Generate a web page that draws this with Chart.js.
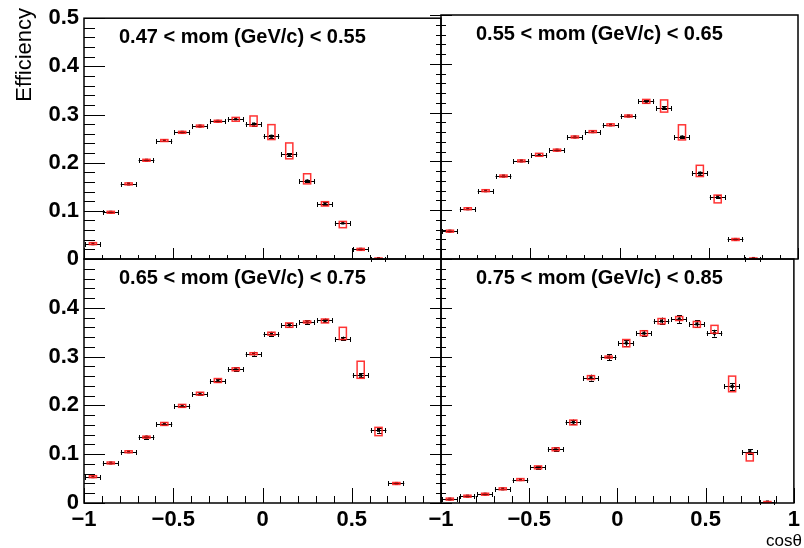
<!DOCTYPE html>
<html>
<head>
<meta charset="utf-8">
<script src="https://cdn.jsdelivr.net/npm/chart.js@4.4.1/dist/chart.umd.min.js"></script>
<style>
  html, body { margin: 0; padding: 0; background: #fff; }
  #wrap { position: relative; width: 804px; height: 548px; }
  #wrap canvas { position: absolute; left: 0; top: 0; }
</style>
</head>
<body>
<div id="wrap">
  <canvas id="c0" width="804" height="548"></canvas>
  <canvas id="c1" width="804" height="548"></canvas>
  <canvas id="c2" width="804" height="548"></canvas>
  <canvas id="c3" width="804" height="548"></canvas>
</div>
<script>
// cos(theta) bins, width 0.1
const binCenters = [-0.95, -0.85, -0.75, -0.65, -0.55, -0.45, -0.35, -0.25, -0.15, -0.05,
                    0.05, 0.15, 0.25, 0.35, 0.45, 0.55, 0.65, 0.75, 0.85, 0.95];
const binHalfWidth = 0.05;

const momRanges = ['0.47 < mom (GeV/c) < 0.55', '0.55 < mom (GeV/c) < 0.65',
                   '0.65 < mom (GeV/c) < 0.75', '0.75 < mom (GeV/c) < 0.85'];

const xTickValues = [-1, -0.5, 0, 0.5, 1];
const yTickValues = [0, 0.1, 0.2, 0.3, 0.4, 0.5];
const xMinorStep = 0.1;
const yMinorStep = 0.02;

// efficiency, stat error, systematic box centre and half height
const eff1 = [0.032, 0.097, 0.156, 0.205, 0.246, 0.263, 0.276, 0.286, 0.291, 0.280, 0.255, 0.217, 0.162, 0.115, 0.075, 0.020, 0.001, null, null, null];
const stat1 = [0.002, 0.002, 0.002, 0.002, 0.002, 0.002, 0.002, 0.002, 0.002, 0.003, 0.003, 0.003, 0.003, 0.003, 0.002, 0.001, 0.001, null, null, null];
const sysMid1 = [0.032, 0.097, 0.156, 0.205, 0.246, 0.263, 0.276, 0.286, 0.290, 0.2865, 0.2635, 0.2245, 0.1665, 0.1145, 0.0715, 0.020, 0.001, null, null, null];
const sysErr1 = [0.002, 0.002, 0.002, 0.002, 0.002, 0.002, 0.002, 0.002, 0.004, 0.0105, 0.0155, 0.0165, 0.0105, 0.0045, 0.0065, 0.002, 0.001, null, null, null];

const eff2 = [0.057, 0.103, 0.140, 0.170, 0.201, 0.2135, 0.223, 0.250, 0.261, 0.275, 0.293, 0.323, 0.310, 0.250, 0.176, 0.128, 0.040, 0.001, null, null];
const stat2 = [0.002, 0.002, 0.002, 0.002, 0.002, 0.002, 0.002, 0.002, 0.002, 0.002, 0.002, 0.003, 0.003, 0.003, 0.003, 0.003, 0.002, 0.001, null, null];
const sysMid2 = [0.057, 0.103, 0.140, 0.170, 0.201, 0.2135, 0.223, 0.250, 0.261, 0.275, 0.293, 0.323, 0.3135, 0.2595, 0.1805, 0.123, 0.040, 0.001, null, null];
const sysErr2 = [0.002, 0.002, 0.002, 0.002, 0.002, 0.003, 0.002, 0.002, 0.002, 0.002, 0.002, 0.004, 0.0125, 0.0155, 0.0115, 0.008, 0.002, 0.001, null, null];

const eff3 = [0.054, 0.082, 0.105, 0.135, 0.162, 0.199, 0.224, 0.251, 0.274, 0.306, 0.347, 0.365, 0.371, 0.374, 0.337, 0.262, 0.149, 0.040, null, null];
const stat3 = [0.002, 0.002, 0.002, 0.003, 0.003, 0.003, 0.003, 0.004, 0.004, 0.004, 0.004, 0.004, 0.004, 0.004, 0.004, 0.004, 0.005, 0.002, null, null];
const sysMid3 = [0.054, 0.082, 0.105, 0.135, 0.162, 0.199, 0.224, 0.251, 0.274, 0.306, 0.347, 0.3645, 0.371, 0.373, 0.3475, 0.273, 0.1465, 0.040, null, null];
const sysErr3 = [0.002, 0.002, 0.002, 0.002, 0.003, 0.003, 0.003, 0.004, 0.003, 0.002, 0.003, 0.0045, 0.002, 0.004, 0.0125, 0.0175, 0.0085, 0.002, null, null];

const eff4 = [0.008, 0.014, 0.018, 0.029, 0.048, 0.073, 0.110, 0.166, 0.257, 0.299, 0.328, 0.348, 0.373, 0.377, 0.367, 0.348, 0.239, 0.105, 0.002, null];
const stat4 = [0.001, 0.001, 0.001, 0.002, 0.002, 0.003, 0.004, 0.005, 0.006, 0.006, 0.006, 0.006, 0.007, 0.008, 0.007, 0.007, 0.007, 0.005, 0.001, null];
const sysMid4 = [0.008, 0.014, 0.018, 0.029, 0.048, 0.073, 0.110, 0.165, 0.257, 0.299, 0.3275, 0.348, 0.3725, 0.378, 0.366, 0.356, 0.244, 0.094, 0.002, null];
const sysErr4 = [0.002, 0.002, 0.002, 0.002, 0.002, 0.003, 0.003, 0.005, 0.004, 0.002, 0.0075, 0.005, 0.0055, 0.004, 0.006, 0.008, 0.016, 0.0078, 0.001, null];

const FONT = '"Liberation Sans", Arial, sans-serif';
const SYS_HALF_WIDTH = 0.02;
const W = 804, H = 548;
const crisp = v => Math.round(v) + 0.5;

function fmt(v) {
  const r = Math.round(v * 10) / 10;
  return String(r).replace('-', '\u2212');
}

function minorTicks(min, max, step) {
  const out = [];
  for (let v = min; v <= max + 1e-9; v += step) out.push(Math.round(v * 1000) / 1000);
  return out;
}

const panels = [
  { id: 'c0', title: momRanges[0], eff: eff1, stat: stat1, sysMid: sysMid1, sysErr: sysErr1,
    area: { l: 84, t: 15, r: 441, b: 259 }, yLab: true, xLab: false, skipY: [], skipX: [],
    yLen: [21, 11], yBoth: false, xLen: [11, 4] },
  { id: 'c1', title: momRanges[1], eff: eff2, stat: stat2, sysMid: sysMid2, sysErr: sysErr2,
    area: { l: 441, t: 15, r: 798, b: 259 }, yLab: false, xLab: false, skipY: [], skipX: [],
    yLen: [11, 5], yBoth: true, xLen: [11, 4] },
  { id: 'c2', title: momRanges[2], eff: eff3, stat: stat3, sysMid: sysMid3, sysErr: sysErr3,
    area: { l: 84, t: 259, r: 441, b: 503 }, yLab: true, xLab: true, skipY: [0.5], skipX: [1],
    yLen: [21, 11], yBoth: false, xLen: [15, 7] },
  { id: 'c3', title: momRanges[3], eff: eff4, stat: stat4, sysMid: sysMid4, sysErr: sysErr4,
    area: { l: 441, t: 259, r: 798, b: 503 }, yLab: false, xLab: true, skipY: [0.5], skipX: [],
    yLen: [11, 5], yBoth: true, xLen: [15, 7] }
];

function makePlugin(p, idx) {
  return {
    id: 'panel' + idx,
    beforeDatasetsDraw(chart) {
      const { ctx, scales: { x, y } } = chart;
      ctx.save();
      ctx.strokeStyle = '#000';
      ctx.lineWidth = 1;
      p.eff.forEach((v, i) => {
        if (v === null) return;
        const c = binCenters[i];
        const x0 = x.getPixelForValue(c - binHalfWidth);
        const x1 = x.getPixelForValue(c + binHalfWidth);
        const px = crisp(x.getPixelForValue(c));
        const py = crisp(y.getPixelForValue(v));
        ctx.beginPath();
        ctx.moveTo(x0 + 1, py); ctx.lineTo(x1 - 1, py);
        ctx.moveTo(crisp(x0 + 1), py - 2.5); ctx.lineTo(crisp(x0 + 1), py + 2.5);
        ctx.moveTo(crisp(x1 - 2), py - 2.5); ctx.lineTo(crisp(x1 - 2), py + 2.5);
        const e = p.stat[i];
        const ylo = y.getPixelForValue(v - e), yhi = y.getPixelForValue(v + e);
        if (ylo - yhi > 2) {
          ctx.moveTo(px, ylo); ctx.lineTo(px, yhi);
          ctx.moveTo(px - 2.5, crisp(ylo)); ctx.lineTo(px + 2.5, crisp(ylo));
          ctx.moveTo(px - 2.5, crisp(yhi)); ctx.lineTo(px + 2.5, crisp(yhi));
        }
        ctx.stroke();
      });
      ctx.restore();
    },
    afterDatasetsDraw(chart) {
      const { ctx, scales: { x, y } } = chart;
      ctx.save();
      ctx.strokeStyle = 'rgba(255, 30, 30, 0.9)';
      ctx.lineWidth = 1.5;
      p.sysMid.forEach((m, i) => {
        if (m === null) return;
        const c = binCenters[i];
        const x0 = x.getPixelForValue(c - SYS_HALF_WIDTH);
        const x1 = x.getPixelForValue(c + SYS_HALF_WIDTH);
        const y0 = y.getPixelForValue(m + p.sysErr[i]);
        const y1 = y.getPixelForValue(m - p.sysErr[i]);
        ctx.strokeRect(x0, y0, x1 - x0, y1 - y0);
      });
      ctx.restore();
    },
    afterDraw(chart) {
      const { ctx, chartArea: a, scales: { x, y } } = chart;
      ctx.save();
      ctx.strokeStyle = '#000';
      ctx.lineWidth = 1;
      ctx.beginPath();
      // y ticks (inward, both sides on the shared edge)
      minorTicks(0, 0.5, yMinorStep).forEach(v => {
        const major = yTickValues.some(t => Math.abs(t - v) < 1e-6);
        const len = major ? p.yLen[0] : p.yLen[1];
        const py = crisp(y.getPixelForValue(v));
        ctx.moveTo(a.left - (p.yBoth ? len : 0), py);
        ctx.lineTo(a.left + len, py);
      });
      // x ticks
      minorTicks(-1, 1, xMinorStep).forEach(v => {
        const major = xTickValues.some(t => Math.abs(t - v) < 1e-6);
        const len = major ? p.xLen[0] : p.xLen[1];
        const px = crisp(x.getPixelForValue(v));
        ctx.moveTo(px, a.bottom);
        ctx.lineTo(px, a.bottom - len);
      });
      ctx.stroke();
      // frame
      ctx.lineWidth = 1.5;
      ctx.strokeRect(a.left, a.top, a.right - a.left, a.bottom - a.top);
      // panel title
      ctx.fillStyle = '#000';
      ctx.font = 'bold 20px ' + FONT;
      ctx.textAlign = 'left';
      ctx.textBaseline = 'middle';
      ctx.fillText(p.title, a.left + 35, a.top + 19);
      if (idx === 0) {
        ctx.save();
        ctx.translate(25, 8);
        ctx.rotate(-Math.PI / 2);
        ctx.font = '22px ' + FONT;
        ctx.textAlign = 'right';
        ctx.textBaseline = 'middle';
        ctx.fillText('Efficiency', 0, 0);
        ctx.restore();
      }
      if (idx === 3) {
        ctx.font = '17px ' + FONT;
        ctx.textAlign = 'right';
        ctx.textBaseline = 'alphabetic';
        ctx.fillText('cos\u03b8', 802, 546);
      }
      ctx.restore();
    }
  };
}

panels.forEach((p, idx) => {
  const pts = [];
  binCenters.forEach((c, i) => { if (p.eff[i] !== null) pts.push({ x: c, y: p.eff[i] }); });
  // the axis boxes take the whole margin so their labels are not clipped away
  const yAxisW = p.yLab ? p.area.l : 0;
  const xAxisH = p.xLab ? H - p.area.b : 0;
  new Chart(document.getElementById(p.id), {
    type: 'scatter',
    data: {
      datasets: [{
        data: pts,
        backgroundColor: '#000',
        borderWidth: 0,
        pointStyle: 'rect',
        pointRadius: 2.2
      }]
    },
    options: {
      responsive: false,
      animation: false,
      events: [],
      layout: { padding: { left: p.area.l - yAxisW, top: p.area.t, right: W - p.area.r, bottom: H - p.area.b - xAxisH } },
      plugins: { legend: { display: false }, tooltip: { enabled: false }, title: { display: false } },
      scales: {
        x: {
          type: 'linear', min: -1, max: 1,
          afterBuildTicks: s => { s.ticks = xTickValues.map(v => ({ value: v })); },
          afterFit: s => { s.height = xAxisH; },
          grid: { display: false, drawTicks: false },
          border: { display: false },
          ticks: {
            display: p.xLab, padding: 4, color: '#000', maxRotation: 0, autoSkip: false,
            font: { family: FONT, size: 22, weight: 'bold' },
            callback: v => (p.skipX.includes(v) ? '' : fmt(v))
          }
        },
        y: {
          type: 'linear', min: 0, max: 0.5,
          afterBuildTicks: s => { s.ticks = yTickValues.map(v => ({ value: v })); },
          afterFit: s => { s.width = yAxisW; },
          grid: { display: false, drawTicks: false },
          border: { display: false },
          ticks: {
            display: p.yLab, padding: 5, color: '#000', autoSkip: false,
            font: { family: FONT, size: 22, weight: 'bold' },
            callback: v => (p.skipY.includes(v) ? '' : fmt(v))
          }
        }
      }
    },
    plugins: [makePlugin(p, idx)]
  });
});
</script>
</body>
</html>
